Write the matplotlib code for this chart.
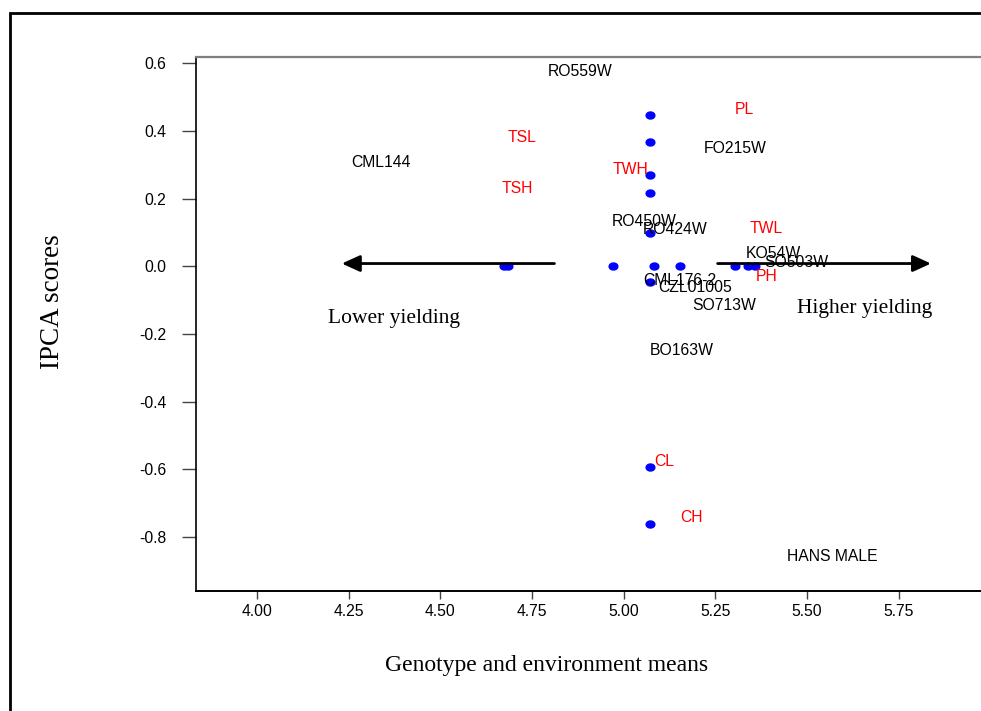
import numpy as np
import matplotlib
matplotlib.use("Agg")
import matplotlib.pyplot as plt
from matplotlib.patches import Rectangle
from matplotlib.path import Path

SANS = "Liberation Sans"
SERIF = "Liberation Serif"

# means and first IPCA scores of the plotted points
point_mean = [5.072, 5.072, 5.072, 5.072, 5.072, 5.072, 5.072, 5.072,
              4.674, 4.684, 4.970, 5.083, 5.154, 5.304, 5.340, 5.358]
point_ipca = [0.446, 0.366, 0.269, 0.217, 0.0975, -0.046, -0.594, -0.761,
              0.0, 0.0, 0.0, 0.0, 0.0, 0.0, 0.0, 0.0]

# environment labels (red)
env_names = ["PL", "TSL", "TWH", "TSH", "TWL", "PH", "CL", "CH"]
env_x = [5.302, 4.683, 4.969, 4.668, 5.342, 5.361, 5.084, 5.153]
env_y = [0.466, 0.385, 0.289, 0.234, 0.116, -0.027, -0.575, -0.741]

# genotype labels (black)
gen_names = ["RO559W", "CML144", "FO215W", "RO450W", "RO424W", "KO54W",
             "SO503W", "CML176-2", "CZL01005", "SO713W", "BO163W", "HANS MALE"]
gen_x = [4.794, 4.256, 5.218, 4.966, 5.052, 5.332,
         5.384, 5.053, 5.094, 5.188, 5.072, 5.444]
gen_y = [0.579, 0.310, 0.351, 0.134, 0.111, 0.040,
         0.013, -0.038, -0.061, -0.112, -0.246, -0.856]

x_ticks = [4.00, 4.25, 4.50, 4.75, 5.00, 5.25, 5.50, 5.75]
y_ticks = [0.6, 0.4, 0.2, 0.0, -0.2, -0.4, -0.6, -0.8]

W, H = 981, 711
fig = plt.figure(figsize=(W / 100, H / 100), dpi=100)

# outer frame, running off the right and bottom edges
fig.patches.append(Rectangle((10 / W, -0.2), 1.3, 1.2 - 13 / H,
                             transform=fig.transFigure, fill=False,
                             lw=2.0, ec="black"))

x_lo, x_hi = 3.832, 6.0
y_lo, y_hi = -0.961, 0.6177
left = 195.5 / W
bottom = (H - 591.3) / H
top = (H - 57.3) / H
right_px = 257 + (x_hi - 4.0) * 366.7
ax = fig.add_axes([left, bottom, (right_px - 195.5) / W, top - bottom])
ax.set_xlim(x_lo, x_hi)
ax.set_ylim(y_lo, y_hi)

ax.spines["right"].set_visible(False)
ax.spines["top"].set_color("#7f7f7f")
ax.spines["top"].set_linewidth(1.6)
ax.spines["left"].set_linewidth(1.2)
ax.spines["bottom"].set_linewidth(1.4)

ax.set_xticks(x_ticks)
ax.set_xticklabels([f"{v:.2f}" for v in x_ticks])
ax.set_yticks(y_ticks)
ax.set_yticklabels([f"{v:.1f}" for v in y_ticks])
ax.tick_params(axis="y", length=10, width=1.0, pad=11, color="#444444",
               labelsize=11.3)
ax.tick_params(axis="x", length=6, width=1.0, pad=3.5, color="#444444",
               labelsize=11.3)
for lab in ax.get_xticklabels() + ax.get_yticklabels():
    lab.set_fontfamily(SANS)

# slightly flattened dot marker
t = np.linspace(0, 2 * np.pi, 40)
dot = Path(np.column_stack([np.cos(t), 0.8 * np.sin(t)]))
ax.plot(point_mean, point_ipca, ls="none", marker=dot, ms=6.3,
        color="#0000ff", mec="#0000ff", zorder=3)

for name, x, y in zip(env_names, env_x, env_y):
    ax.annotate(name, (x, y), xytext=(0, -4), textcoords="offset points",
                ha="left", va="baseline", color="#ff0000",
                fontsize=11.3, fontfamily=SANS, zorder=4)
for name, x, y in zip(gen_names, gen_x, gen_y):
    ax.annotate(name, (x, y), xytext=(0, -4), textcoords="offset points",
                ha="left", va="baseline", color="black",
                fontsize=11.3, fontfamily=SANS, zorder=4)

# yield direction arrows
arrow_style = dict(arrowstyle="-|>,head_length=1.1,head_width=0.5",
                   lw=2.0, color="black", shrinkA=0, shrinkB=0)
ax.annotate("", xy=(4.231, 0.008), xytext=(4.811, 0.008),
            arrowprops=arrow_style)
ax.annotate("", xy=(5.838, 0.008), xytext=(5.256, 0.008),
            arrowprops=arrow_style)
ax.text(4.194, -0.169, "Lower yielding", ha="left", va="baseline",
        fontsize=15.5, fontfamily=SERIF)
ax.text(5.472, -0.138, "Higher yielding", ha="left", va="baseline",
        fontsize=15.5, fontfamily=SERIF)

fig.text(547 / W, 1 - 666 / H, "Genotype and environment means",
         ha="center", va="center", fontsize=17, fontfamily=SERIF)
fig.text(52.5 / W, 1 - 302 / H, "IPCA scores", rotation=90,
         ha="center", va="center", fontsize=19.5, fontfamily=SERIF)

fig.savefig("out.png", dpi=100)
